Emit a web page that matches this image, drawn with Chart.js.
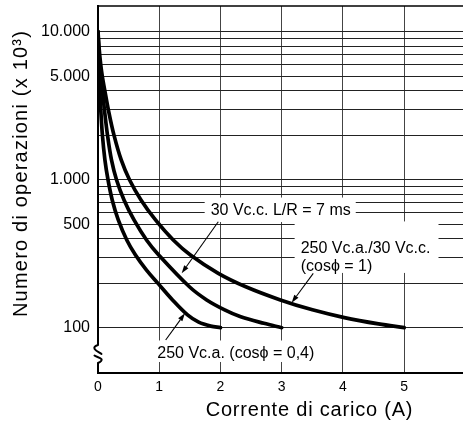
<!DOCTYPE html>
<html><head><meta charset="utf-8">
<script src="https://cdn.jsdelivr.net/npm/chart.js@4.4.1/dist/chart.umd.min.js"></script>
<style>html,body{margin:0;padding:0;background:#fff;}#wrap{width:463px;height:427px;position:relative;}</style>
</head><body><div id="wrap"><canvas id="c"></canvas></div>
<script>
// ---- axis values ----
const xTickValues = [0, 1, 2, 3, 4, 5];
const yGridValues = [100,200,300,400,500,600,700,800,900,1000,2000,3000,4000,5000,6000,7000,8000,9000,10000];
const yLabelValues = [100, 500, 1000, 5000, 10000];
const yLabelTexts = ['100', '500', '1.000', '5.000', '10.000'];

// ---- series: 250 Vc.a. (cosϕ = 0,4) ----
const currentAC04 = [0, 0.0065, 0.018, 0.029, 0.046, 0.072, 0.113, 0.163, 0.232, 0.331, 0.472, 0.612, 0.792, 0.976, 1.217, 1.462, 1.644, 1.84, 2.0];
const opsAC04     = [10000, 7500, 5000, 4000, 2940, 2000, 1360, 1000, 730, 535, 390, 310, 245, 200, 154, 122, 109, 102.5, 100];

// ---- series: 30 Vc.c. L/R = 7 ms ----
const currentDC7 = [0, 0.0114, 0.0294, 0.047, 0.072, 0.106, 0.155, 0.22, 0.302, 0.425, 0.588, 0.795, 0.991, 1.4925, 1.775, 2.068, 2.32, 2.709, 3.0];
const opsDC7     = [10000, 7500, 6000, 5000, 4000, 2940, 2000, 1360, 1000, 730, 535, 390, 310, 189, 154, 132, 119, 107, 100];

// ---- series: 250 Vc.a./30 Vc.c. (cosϕ = 1) ----
const currentRes = [0, 0.021, 0.044, 0.07, 0.111, 0.171, 0.261, 0.379, 0.514, 0.702, 0.939, 1.233, 1.509, 1.964, 2.413, 2.978, 3.501, 4.023, 4.58, 5.0];
const opsRes     = [10000, 7500, 6000, 5000, 4000, 2940, 2000, 1360, 1000, 730, 535, 390, 310, 233, 189, 154, 132, 117, 106, 100];

// ---- texts ----
const xTitle = 'Corrente di carico (A)';
const yTitle = 'Numero di operazioni (x 10³)';
const labelTexts = [
  ['30 Vc.c. L/R = 7 ms'],
  ['250 Vc.a./30 Vc.c.', '(cosϕ = 1)'],
  ['250 Vc.a. (cosϕ = 0,4)']
];

const SANS = '"Liberation Sans", Arial, Helvetica, sans-serif';
const NARROW = '"Liberation Sans Narrow", "Arial Narrow", "Liberation Sans", sans-serif';

function pts(xs, ys) { return xs.map((x, i) => ({x: x, y: ys[i]})); }
function ds(xs, ys) {
  return { data: pts(xs, ys), showLine: true, borderColor: '#000', borderWidth: 3.7,
    pointRadius: 0, fill: false, tension: 0.35, cubicInterpolationMode: 'default', borderCapStyle: 'round' };
}

// annotation placement (data coordinates) and mask pads [top,right,bottom,left] in px
const labelAnchors = [
  {x: 1.84, y: 577, gap: 18, pad: [6, 5, 7, 6]},
  {x: 3.309, y: 320, gap: 18, pad: [20, 8, 2, 6]},
  {x: 0.968, y: 62.4, gap: 18, pad: [6, 5, 4, 5]}
];
const arrows = [
  {from: [1.964, 520], to: [1.366, 233]},
  {from: [3.515, 233], to: [3.162, 147.6]},
  {from: [1.105, 82.6], to: [1.42, 125]}
];

const annoPlugin = {
  id: 'anno',
  beforeDatasetsDraw(chart) {
    const {ctx, chartArea: a, scales: {x, y}} = chart;
    ctx.save();
    ctx.strokeStyle = '#000'; ctx.lineWidth = 1.5;
    ctx.beginPath(); ctx.moveTo(a.left, a.top); ctx.lineTo(a.right, a.top); ctx.stroke();
    ctx.font = '16px ' + SANS;
    labelTexts.forEach((lines, i) => {
      const an = labelAnchors[i];
      const px = x.getPixelForValue(an.x), py = y.getPixelForValue(an.y);
      const w = Math.max(...lines.map(t => ctx.measureText(t).width));
      const capTop = py - 11.5;
      const lastBase = py + an.gap * (lines.length - 1);
      ctx.fillStyle = '#fff';
      ctx.fillRect(px - an.pad[3], capTop - an.pad[0], w + an.pad[3] + an.pad[1], lastBase - capTop + an.pad[0] + an.pad[2]);
    });
    ctx.restore();
  },
  afterDraw(chart) {
    const {ctx, chartArea: a, scales: {x, y}} = chart;
    ctx.save();
    ctx.fillStyle = '#000';
    ctx.font = '16px ' + SANS;
    ctx.textBaseline = 'alphabetic';
    ctx.textAlign = 'left';
    labelTexts.forEach((lines, i) => {
      const an = labelAnchors[i];
      const px = x.getPixelForValue(an.x), py = y.getPixelForValue(an.y);
      lines.forEach((t, j) => ctx.fillText(t, px, py + j * an.gap));
    });
    ctx.strokeStyle = '#000'; ctx.lineWidth = 1.1;
    arrows.forEach(ar => {
      const x0 = x.getPixelForValue(ar.from[0]), y0 = y.getPixelForValue(ar.from[1]);
      const x1 = x.getPixelForValue(ar.to[0]), y1 = y.getPixelForValue(ar.to[1]);
      const ang = Math.atan2(y1 - y0, x1 - x0);
      const L = 8, W = 2.6;
      const bx = x1 - L * Math.cos(ang), by = y1 - L * Math.sin(ang);
      ctx.beginPath(); ctx.moveTo(x0, y0); ctx.lineTo(bx, by); ctx.stroke();
      ctx.beginPath();
      ctx.moveTo(x1, y1);
      ctx.lineTo(bx + W * Math.sin(ang), by - W * Math.cos(ang));
      ctx.lineTo(bx - W * Math.sin(ang), by + W * Math.cos(ang));
      ctx.closePath(); ctx.fill();
    });
    ctx.font = '20px ' + SANS;
    ctx.textAlign = 'center';
    try { ctx.letterSpacing = '0.8px'; } catch (e) {}
    ctx.fillText(xTitle, a.left + 211.5, a.bottom + 43);
    try { ctx.letterSpacing = '1.2px'; } catch (e) {}
    ctx.save();
    ctx.translate(a.left - 71.5, a.top + 167.5);
    ctx.rotate(-Math.PI / 2);
    ctx.fillText(yTitle, 0, 0);
    ctx.restore();
    try { ctx.letterSpacing = '0px'; } catch (e) {}
    const L0 = a.left;
    const yb = y.getPixelForValue(49.4) - 27;
    ctx.fillStyle = '#fff';
    ctx.fillRect(L0 - 8, yb - 1, 16, 18);
    ctx.strokeStyle = '#000'; ctx.lineWidth = 2; ctx.lineCap = 'round';
    ctx.beginPath();
    ctx.moveTo(L0, yb - 1);
    ctx.bezierCurveTo(L0 - 9, yb + 2, L0 + 1, yb + 6, L0 + 3.5, yb + 8);
    ctx.stroke();
    ctx.beginPath();
    ctx.moveTo(L0 - 3.5, yb + 9.5);
    ctx.bezierCurveTo(L0 - 1, yb + 11.5, L0 + 9, yb + 12.5, L0, yb + 17);
    ctx.stroke();
    ctx.restore();
  }
};

new Chart(document.getElementById('c'), {
  type: 'scatter',
  data: { datasets: [ds(currentAC04, opsAC04), ds(currentDC7, opsDC7), ds(currentRes, opsRes)] },
  options: {
    responsive: true, maintainAspectRatio: false, animation: false,
    layout: { padding: { top: 6, left: 0, right: 0, bottom: 0 } },
    plugins: { legend: { display: false }, tooltip: { enabled: false } },
    scales: {
      x: {
        type: 'linear', min: 0, max: 5.96, bounds: 'data',
        afterBuildTicks: s => { s.ticks = xTickValues.map(v => ({value: v})); },
        afterFit: s => { s.height = 54; s.paddingLeft = 0; s.paddingRight = 0; },
        grid: { color: '#444', lineWidth: 1, drawTicks: false },
        border: { color: '#000', width: 2 },
        ticks: { padding: 6, color: '#000', autoSkip: false, maxRotation: 0,
          font: { family: NARROW, size: 14 }, callback: v => String(v) }
      },
      y: {
        type: 'logarithmic', min: 49.4, max: 14920, bounds: 'data',
        afterBuildTicks: s => { s.ticks = yGridValues.map(v => ({value: v})); },
        afterFit: s => { s.width = 98; s.paddingTop = 0; s.paddingBottom = 0; },
        grid: { color: '#222', lineWidth: 1, drawTicks: false },
        border: { color: '#000', width: 2 },
        ticks: { padding: 8, color: '#000', autoSkip: false,
          font: { family: SANS, size: 16 },
          callback: v => { const i = yLabelValues.indexOf(v); return i >= 0 ? yLabelTexts[i] : ''; } }
      }
    }
  },
  plugins: [annoPlugin]
});
</script>
</body></html>
